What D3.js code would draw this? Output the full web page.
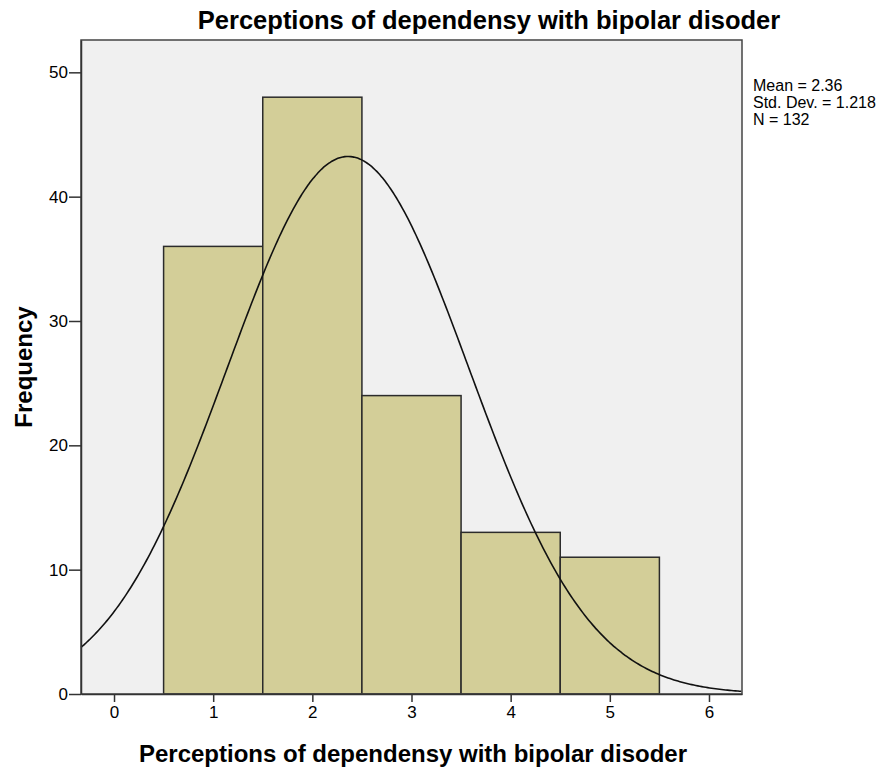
<!DOCTYPE html>
<html>
<head>
<meta charset="utf-8">
<script src="https://cdn.jsdelivr.net/npm/d3@7"></script>
<style>
body{margin:0;background:#fff;}
text{font-family:"Liberation Sans",Arial,sans-serif;fill:#000;}
</style>
</head>
<body>
<svg class="chart" width="891" height="773"></svg>
<script>
// histogram data
var binCenters = [1, 2, 3, 4, 5];
var counts = [36, 48, 24, 13, 11];
var xTicks = [0, 1, 2, 3, 4, 5, 6];
var yTicks = [0, 10, 20, 30, 40, 50];
var statMean = 2.36, statSd = 1.218, statN = 132;
var statLines = ["Mean = 2.36", "Std. Dev. = 1.218", "N = 132"];

var svg = d3.select("svg.chart");
var pLeft = 81, pTop = 40, pRight = 742, pBottom = 694;

var x = d3.scaleLinear().domain([-0.333, 6.333]).range([pLeft, pRight]);
var y = d3.scaleLinear().domain([0, 52.6]).range([pBottom, pTop]);

svg.append("rect")
    .attr("x", pLeft).attr("y", pTop)
    .attr("width", pRight-pLeft).attr("height", pBottom-pTop)
    .attr("fill", "#f0f0f0");

svg.append("g")
    .selectAll("rect")
    .data(counts)
    .enter().append("rect")
    .attr("x", function(d,i){return x(binCenters[i]-0.5);})
    .attr("y", function(d){return y(d);})
    .attr("width", function(d,i){return x(binCenters[i]+0.5)-x(binCenters[i]-0.5);})
    .attr("height", function(d){return pBottom-y(d);})
    .attr("fill", "#d3ce98")
    .attr("stroke", "#2b2b2b")
    .attr("stroke-width", 1.5);

// normal curve from stats
var pts = d3.range(-0.333, 6.334, 0.02).map(function(v){
    var z = (v-statMean)/statSd;
    return [v, statN*Math.exp(-0.5*z*z)/(statSd*Math.sqrt(2*Math.PI))];
});
svg.append("path")
    .datum(pts)
    .attr("d", d3.line().x(function(d){return x(d[0]);}).y(function(d){return y(d[1]);}).curve(d3.curveBasis))
    .attr("fill", "none")
    .attr("stroke", "#111")
    .attr("stroke-width", 1.6);

// frame
svg.append("rect")
    .attr("x", pLeft).attr("y", pTop)
    .attr("width", pRight-pLeft).attr("height", pBottom-pTop)
    .attr("fill", "none")
    .attr("stroke", "#444")
    .attr("stroke-width", 1.5);

var xAxis = svg.append("g")
    .attr("transform", "translate(0," + pBottom + ")")
    .call(d3.axisBottom(x).tickValues(xTicks).tickSizeInner(8).tickSizeOuter(0).tickPadding(4).tickFormat(d3.format("d")));
var yAxis = svg.append("g")
    .attr("transform", "translate(" + pLeft + ",0)")
    .call(d3.axisLeft(y).tickValues(yTicks).tickSizeInner(12).tickSizeOuter(0).tickPadding(1).tickFormat(d3.format("d")));
[xAxis, yAxis].forEach(function(a){
    a.select(".domain").attr("stroke", "#333").attr("stroke-width", 1.5);
    a.selectAll(".tick line").attr("stroke", "#333").attr("stroke-width", 1.5);
    a.selectAll(".tick text").attr("font-size", 17).attr("fill", "#222")
        .attr("font-family", "'Liberation Sans',Arial,sans-serif");
});

svg.append("text")
    .attr("x", 489).attr("y", 29)
    .attr("text-anchor", "middle")
    .attr("font-size", 25.5).attr("font-weight", "bold")
    .text("Perceptions of dependensy with bipolar disoder");

svg.append("text")
    .attr("x", 413).attr("y", 762)
    .attr("text-anchor", "middle")
    .attr("font-size", 24).attr("font-weight", "bold")
    .text("Perceptions of dependensy with bipolar disoder");

svg.append("text")
    .attr("transform", "translate(32,367) rotate(-90)")
    .attr("text-anchor", "middle")
    .attr("font-size", 24).attr("font-weight", "bold")
    .text("Frequency");

svg.append("g")
    .selectAll("text")
    .data(statLines)
    .enter().append("text")
    .attr("x", 753)
    .attr("y", function(d,i){return 91 + i*17;})
    .attr("font-size", 16)
    .attr("fill", "#222")
    .text(function(d){return d;});
</script>
</body>
</html>
